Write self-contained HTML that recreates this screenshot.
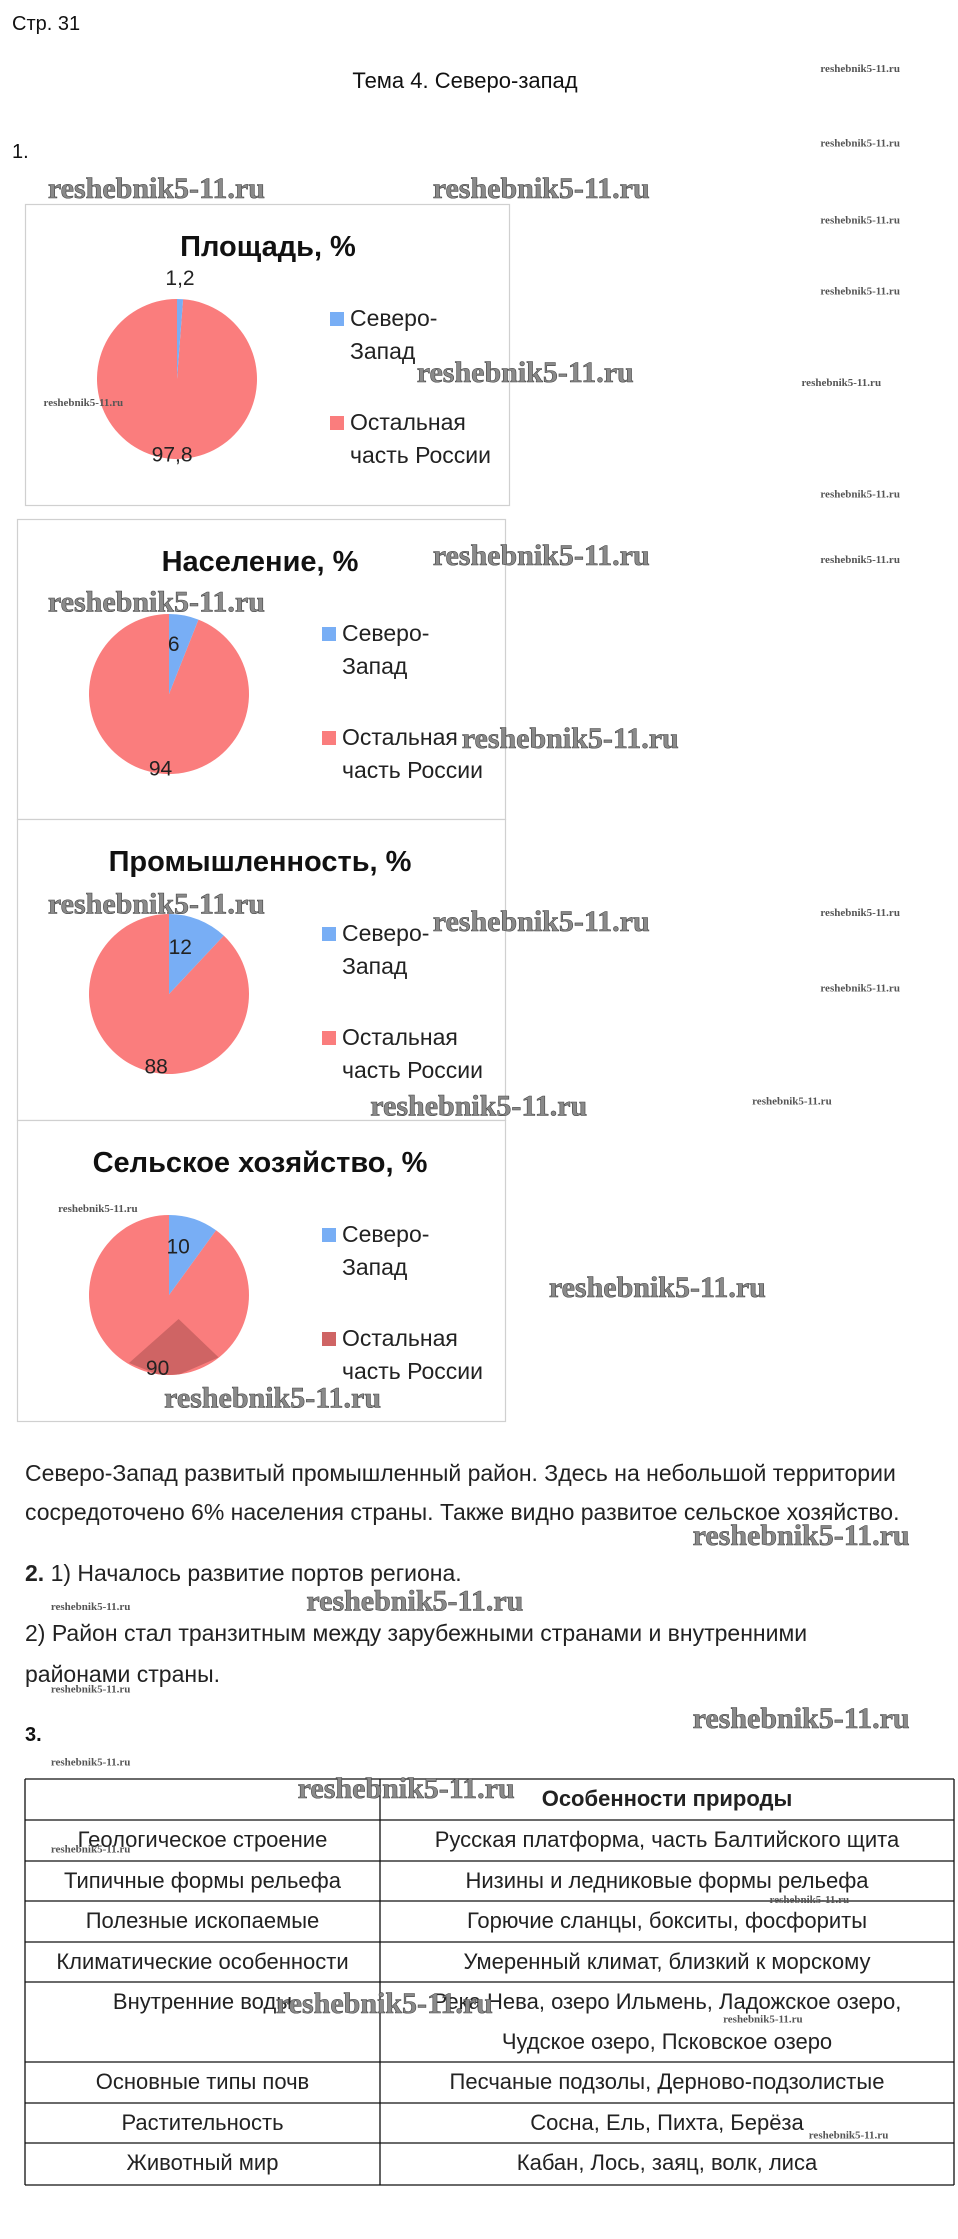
<!DOCTYPE html>
<html><head><meta charset="utf-8">
<style>
html,body{margin:0;padding:0;background:#fff;}
svg{display:block;}
text{font-family:"Liberation Sans","Noto Sans CJK SC",sans-serif;}
.wmb{font-family:"Liberation Serif",serif;font-weight:bold;font-size:30px;fill:#8a8a8a;stroke:#444;stroke-width:0.6px;}
.wms{font-family:"Liberation Serif",serif;font-weight:bold;font-size:11px;fill:#555;}
.ttl{font-weight:bold;font-size:29px;fill:#111;}
.leg{font-family:"Liberation Sans Narrow","Liberation Sans",sans-serif;font-size:23px;fill:#222;}
.lbl{font-family:"Liberation Sans Narrow","Liberation Sans",sans-serif;font-size:21px;fill:#222;}
.txt{font-size:23px;fill:#222;}
.tt{font-size:22px;fill:#222;}
</style></head>
<body>
<svg id="page" width="958" height="2239" viewBox="0 0 958 2239" xmlns="http://www.w3.org/2000/svg">
<text x="12" y="30" font-size="20" fill="#111">Стр. 31</text>
<text x="465" y="88" font-size="22" fill="#111" text-anchor="middle">Тема 4. Северо-запад</text>
<text x="12" y="158" font-size="20" fill="#111">1.</text>
<g id="charts"></g>

<text class="txt" x="25" y="1481">Северо-Запад развитый промышленный  район. Здесь на небольшой территории</text>
<text class="txt" x="25" y="1520">сосредоточено 6% населения страны. Также видно развитое сельское хозяйство.</text>
<text class="txt" x="25" y="1581"><tspan font-weight="bold">2.</tspan> 1) Началось развитие портов региона.</text>
<text class="txt" x="25" y="1641">2) Район стал транзитным между зарубежными странами  и внутренними</text>
<text class="txt" x="25" y="1682">районами страны.</text>
<text x="25" y="1741" font-size="20" font-weight="bold" fill="#111">3.</text>
<g id="table"></g>
<g id="wm"></g>
</svg>
<script>
const NS="http://www.w3.org/2000/svg";
const chartTitles=["Площадь, %","Население, %","Промышленность, %","Сельское хозяйство, %"];
const seriesNames=["Северо-Запад","Остальная часть России"];
const northwestValues=[1.2,6,12,10];
const restValues=[97.8,94,88,90];
const valueLabels=[["1,2","97,8"],["6","94"],["12","88"],["10","90"]];

function mk(tag,attrs,parent,txt){const e=document.createElementNS(NS,tag);for(const k in attrs)e.setAttribute(k,attrs[k]);if(txt!==undefined)e.textContent=txt;parent.appendChild(e);return e;}

const charts=document.getElementById('charts');
const boxes=[[25,204,484,301],[17,519,488,300],[17,819,488,301],[17,1120,488,301]];
const blue="#78aef5",red="#fa7d7d",red2="#cf6464";
for(let i=0;i<4;i++){
  const [bx,by,bw,bh]=boxes[i];
  const g=mk('g',{},charts);
  
  
  const box=mk('rect',{x:bx+0.5,y:by+0.5,width:bw,height:bh,fill:'#fff',stroke:'#d0d0d0','stroke-width':1.2},g);
  
  
  const t=mk('text',{x:bx+243,y:by+52,'text-anchor':'middle',class:'ttl'},g,chartTitles[i]);
  
  
  const cx=bx+152, cy=by+175, r=80;
  const total=northwestValues[i]+restValues[i];
  const frac=northwestValues[i]/total;
  const a0=-Math.PI/2, a1=a0+frac*2*Math.PI;
  const px=a=>cx+r*Math.cos(a), py=a=>cy+r*Math.sin(a);
  const large1=frac>0.5?1:0;
  const s2=mk('path',{d:`M${cx},${cy} L${px(a1)},${py(a1)} A${r},${r} 0 ${1-large1} 1 ${px(a0)},${py(a0)} Z`,fill:red},g);
  
  
  if(i===3){
    const cp=mk('clipPath',{id:'clip4'},g);
    mk('circle',{cx:cx,cy:cy,r:r},cp);
    const sh=mk('polygon',{points:[[0.12,0.3],[-0.5,0.85],[0,1.05],[0.62,0.78]].map(p=>(cx+p[0]*r)+','+(cy+p[1]*r)).join(' '),fill:red2,'clip-path':'url(#clip4)'},g);
    
    
  }
  const s1=mk('path',{d:`M${cx},${cy} L${px(a0)},${py(a0)} A${r},${r} 0 ${large1} 1 ${px(a1)},${py(a1)} Z`,fill:blue},g);
  
  
  let l1x,l1y;
  if(frac<0.03){l1x=cx+3;l1y=cy-r-14;}else{const am=(a0+a1)/2;l1x=cx+r*0.45*Math.cos(am)-2;l1y=cy+r*0.7*Math.sin(am)+12;}
  const lb1=mk('text',{x:l1x,y:l1y,'text-anchor':'middle',class:'lbl'},g,valueLabels[i][0]);
  
  
  const am2=(a1+a0+2*Math.PI)/2;
  const lb2=mk('text',{x:cx+r*0.3*Math.cos(am2)-4,y:cy+r*0.55*Math.sin(am2)+r*0.38+8,'text-anchor':'middle',class:'lbl'},g,valueLabels[i][1]);
  
  
  const lx=bx+305, ly=by+108;
  const sq1=mk('rect',{x:lx,y:ly,width:14,height:14,fill:blue},g);
  
  
  const lt1=mk('text',{x:lx+20,y:ly+14,class:'leg'},g,'Северо-');
  
  
  mk('text',{x:lx+20,y:ly+47,class:'leg'},g,'Запад');
  const sq2=mk('rect',{x:lx,y:ly+104,width:14,height:14,fill:i===3?red2:red},g);
  
  
  const lt2=mk('text',{x:lx+20,y:ly+118,class:'leg'},g,'Остальная');
  
  
  mk('text',{x:lx+20,y:ly+151,class:'leg'},g,'часть России');
}

const rowLabels=["","Геологическое строение","Типичные формы рельефа","Полезные ископаемые","Климатические особенности","Внутренние воды","Основные типы почв","Растительность","Животный мир"];
const rowValues=["Особенности природы","Русская платформа, часть Балтийского щита","Низины и ледниковые формы рельефа","Горючие сланцы, бокситы, фосфориты","Умеренный климат, близкий к морскому","Река Нева, озеро Ильмень, Ладожское озеро,","Песчаные подзолы, Дерново-подзолистые","Сосна, Ель, Пихта, Берёза","Кабан, Лось, заяц, волк, лиса"];
const rowLines=[1779,1820,1861,1901,1942,1982,2062,2103,2143,2185];
const tb=document.getElementById('table');
const tx0=25,tx1=954,tmid=380;
for(const y of rowLines){mk('line',{x1:tx0,y1:y,x2:tx1,y2:y,stroke:'#111','stroke-width':1.3},tb);}
mk('line',{x1:tx0,y1:rowLines[0],x2:tx0,y2:rowLines[9],stroke:'#111','stroke-width':1.3},tb);
mk('line',{x1:tmid,y1:rowLines[0],x2:tmid,y2:rowLines[9],stroke:'#111','stroke-width':1.3},tb);
mk('line',{x1:tx1,y1:rowLines[0],x2:tx1,y2:rowLines[9],stroke:'#111','stroke-width':1.3},tb);
for(let i=0;i<rowLabels.length;i++){
  const y=rowLines[i]+27;
  const c1=mk('text',{x:(tx0+tmid)/2,y:y,'text-anchor':'middle',class:'tt'},tb,rowLabels[i]);
  
  
  const c2=mk('text',{x:(tmid+tx1)/2,y:y,'text-anchor':'middle',class:'tt'},tb,rowValues[i]);
  if(i===0){c2.setAttribute('font-weight','bold');c2.setAttribute('font-size','21');}
  
  
}
const extra=mk('text',{x:(tmid+tx1)/2,y:rowLines[5]+67,'text-anchor':'middle',class:'tt'},tb,'Чудское озеро, Псковское озеро');



const W=document.getElementById('wm');
const big=[[33,130],[298,130],[287,257],[298,383],[33,415],[318,509],[33,623],[298,635],[255,762],[378,887],[113,963],[477,1058],[211,1103],[477,1184],[205,1232],[190,1380]];
const small=[[565,47],[565,98],[565,151],[565,200],[552,263],[565,340],[565,385],[30,277],[565,628],[565,680],[518,758],[40,832],[35,1106],[35,1163],[35,1213],[35,1273],[530,1308],[498,1390],[557,1470]];
const s=1.452;
for(const [x,y] of big){const e=mk('text',{x:x*s,y:y*s+9,class:'wmb'},W,'reshebnik5-11.ru');}
for(const [x,y] of small){const e=mk('text',{x:x*s,y:y*s+4,class:'wms'},W,'reshebnik5-11.ru');}
</script>
</body></html>
